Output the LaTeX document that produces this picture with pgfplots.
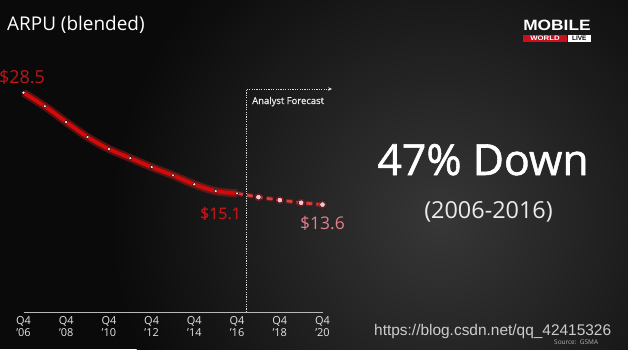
\documentclass[border=0pt]{standalone}
\usepackage{fontspec}
\setmainfont{Open Sans}
\newfontfamily\wmfont{Liberation Sans}
\usepackage{graphicx}
\usepackage{pgfplots}
\usepackage{pgfplotstable}
\pgfplotsset{compat=1.18}
\usetikzlibrary{arrows.meta}
\definecolor{bgdark}{RGB}{10,10,10}
\definecolor{bgmid}{RGB}{55,55,55}
\definecolor{arpured}{RGB}{210,10,10}
\definecolor{glowred}{RGB}{235,30,30}
\definecolor{labred}{RGB}{190,22,24}
\definecolor{pinklab}{RGB}{228,125,140}
\definecolor{dotpink}{RGB}{255,225,228}
\definecolor{fdot}{RGB}{255,190,205}
\definecolor{logored}{RGB}{200,16,30}

\pgfplotstableread{
year arpu
2006 28.5
2007 26.7
2008 24.6
2009 22.6
2010 21.0
2011 19.8
2012 18.6
2013 17.5
2014 16.3
2015 15.4
2016 15.1
}\hist
\pgfplotstableread{
year arpu
2016 15.1
2017 14.6
2018 14.2
2019 13.85
2020 13.6
}\fcst

\begin{document}
\begin{tikzpicture}[x=1bp,y=1bp]
\path[use as bounding box] (0,0) rectangle (628,349);
\begin{scope}
\clip (0,0) rectangle (628,349);
\fill[bgdark] (0,0) rectangle (628,349);
\shade[inner color=bgmid, outer color=bgdark] (440,130) circle (330);
\end{scope}

\begin{axis}[
  at={(23.5bp,37bp)}, anchor=south west,
  scale only axis, width=299bp, height=230.5bp,
  xmin=2006, xmax=2020, ymin=-0.7, ymax=30,
  clip=false,
  axis y line=none,
  axis x line*=bottom,
  x axis line style={draw=white!72!black, line width=0.8bp},
  xtick={2006,2008,...,2020},
  xticklabels={Q4\\'06,Q4\\'08,Q4\\'10,Q4\\'12,Q4\\'14,Q4\\'16,Q4\\'18,Q4\\'20},
  major tick length=0pt,
  xticklabel style={align=center, anchor=north, inner sep=0pt, yshift=-4bp,
    text=white!90!black, font=\fontsize{11}{12.5}\selectfont},
]
% history
\addplot[glowred, opacity=0.35, line width=8bp, smooth] table[x=year,y=arpu]{\hist};
\addplot[arpured, line width=3.8bp, smooth] table[x=year,y=arpu]{\hist};
\addplot[only marks, mark=*, mark size=1.8bp, mark options={fill=dotpink, draw=none}] table[x=year,y=arpu]{\hist};
% forecast
\addplot[glowred, opacity=0.3, line width=5bp, dash pattern=on 6bp off 4bp] table[x=year,y=arpu]{\fcst};
\addplot[arpured!80!white, line width=2.6bp, dash pattern=on 6bp off 4bp] table[x=year,y=arpu]{\fcst};
\addplot[only marks, mark=*, mark size=4.5bp, mark options={fill=glowred, draw=none, opacity=0.35},
  skip coords between index={0}{1}] table[x=year,y=arpu]{\fcst};
\addplot[only marks, mark=*, mark size=2.8bp, mark options={fill=fdot, draw=none},
  skip coords between index={0}{1}] table[x=year,y=arpu]{\fcst};
% forecast marker
\addplot[white!85!black, line width=0.8bp, dash pattern=on 1.2bp off 1.2bp,
  -{Stealth[length=4bp,width=3.5bp]}] coordinates {(2016.45,-0.7) (2016.45,29.0) (2020.45,29.0)};
\end{axis}

% texts
\node[anchor=base west, text=white, inner sep=0, font=\fontsize{19}{22}\selectfont] at (7,319) {ARPU (blended)};
\node[anchor=base, text=white, inner sep=0, font=\fontsize{43}{50}\selectfont\addfontfeature{FakeBold=1.3}] at (483,174) {47\% Down};
\node[anchor=base, text=white!92!black, inner sep=0, font=\fontsize{23.5}{28}\selectfont] at (488.5,131) {(2006-2016)};
\node[anchor=base west, text=labred, inner sep=0, font=\fontsize{18}{20}\selectfont] at (-1,266) {\$28.5};
\node[anchor=base, text=labred, inner sep=0, font=\fontsize{16}{18}\selectfont\addfontfeature{FakeBold=0.8}] at (220.5,130) {\$15.1};
\node[anchor=base, text=pinklab, inner sep=0, font=\fontsize{17.5}{20}\selectfont] at (322.5,120) {\$13.6};
\node[anchor=base west, text=white!92!black, inner sep=0, font=\fontsize{9.5}{11}\selectfont\addfontfeature{FakeBold=0.6}] at (252,245) {Analyst Forecast};

% watermark and source
\node[anchor=base west, text=white!80!black, inner sep=0, font=\wmfont\fontsize{15.5}{18}\selectfont] at (374,14) {https://blog.csdn.net/qq\_42415326};
\node[anchor=base west, text=white!70!black, inner sep=0, font=\fontsize{6.5}{8}\selectfont] at (554,5) {Source:\ \ GSMA};

% logo
\node[anchor=base, text=white, inner sep=0, font=\wmfont\bfseries\fontsize{15}{17}\selectfont] at (557,319) {\scalebox{1.16}[1]{MOBILE}};
\fill[logored] (523,307) rectangle (567,314);
\fill[white] (567.5,307) rectangle (591,314);
\node[text=white, inner sep=0, font=\wmfont\bfseries\fontsize{6.5}{7}\selectfont] at (545,310.5) {\scalebox{1.2}[1]{WORLD}};
\node[text=black, inner sep=0, font=\wmfont\bfseries\fontsize{6.5}{7}\selectfont] at (579.3,310.5) {LIVE};
\end{tikzpicture}
\end{document}
